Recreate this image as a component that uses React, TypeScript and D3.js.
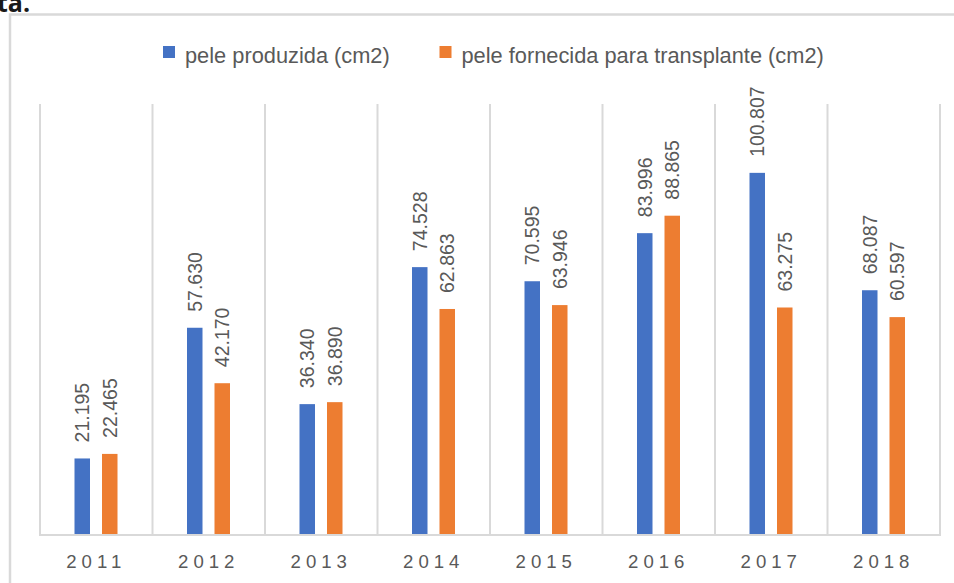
import React from "react";
import * as d3 from "d3";

const years = ["2011", "2012", "2013", "2014", "2015", "2016", "2017", "2018"];
const produzida = [21195, 57630, 36340, 74528, 70595, 83996, 100807, 68087];
const fornecida = [22465, 42170, 36890, 62863, 63946, 88865, 63275, 60597];
const seriesNames = ["pele produzida (cm2)", "pele fornecida para transplante (cm2)"];
const seriesColors = ["#4472C4", "#ED7D31"];

const W = 954;
const H = 583;
const FONT = "'Liberation Sans', Arial, sans-serif";

const fmt = (v: number) => d3.format(",.0f")(v / 1).replace(/,/g, ".").replace(/^(\d+)$/, "$1");
const fmtLabel = (v: number) => {
  const s = String(v);
  return s.length > 3 ? s.slice(0, s.length - 3) + "." + s.slice(s.length - 3) : s;
};

export default function App() {
  const x = d3.scaleBand<string>().domain(years).range([40, 940]).paddingInner(0).paddingOuter(0);
  const y = d3.scaleLinear().domain([0, 120000]).range([534.5, 104]);
  const bw = x.bandwidth();
  const barW = 15.5;
  const offsets = [-14, 13.5];
  const series = [produzida, fornecida];

  return (
    <svg
      width={W}
      height={H}
      style={{ position: "absolute", left: 0, top: 0, background: "#fff" }}
      fontFamily={FONT}
    >
      <rect x={0} y={0} width={W} height={H} fill="#fff" />
      <text x={-3} y={12} fontSize={25} fontWeight={700} fill="#1a1a1a" fontFamily="'Open Sans', sans-serif">
        ta.
      </text>
      {/* chart border */}
      <rect x={10} y={14.5} width={W + 20} height={H + 20} fill="none" stroke="#d9d9d9" strokeWidth={2.5} />

      {/* legend */}
      {seriesNames.map((name, i) => {
        const lx = i === 0 ? 163 : 439.5;
        return (
          <g key={name}>
            <rect x={lx} y={46} width={12} height={12} fill={seriesColors[i]} />
            <text x={lx + 22} y={63} fontSize={21.8} fill="#595959">
              {name}
            </text>
          </g>
        );
      })}

      {/* vertical gridlines at category boundaries */}
      {years.map((yr) => (
        <line key={"g" + yr} x1={x(yr)!} x2={x(yr)!} y1={104} y2={535} stroke="#d9d9d9" strokeWidth={2} />
      ))}
      <line x1={940} x2={940} y1={104} y2={535} stroke="#d9d9d9" strokeWidth={2} />

      {/* bars */}
      {series.map((vals, si) =>
        vals.map((v, i) => {
          const cx = x(years[i])! + bw / 2 + offsets[si];
          return (
            <rect
              key={`b${si}-${i}`}
              x={cx - barW / 2}
              y={y(v)}
              width={barW}
              height={y(0) - y(v)}
              fill={seriesColors[si]}
            />
          );
        })
      )}

      {/* axis line */}
      <line x1={39} x2={941} y1={535} y2={535} stroke="#d9d9d9" strokeWidth={2} />

      {/* value labels */}
      {series.map((vals, si) =>
        vals.map((v, i) => {
          const cx = x(years[i])! + bw / 2 + offsets[si];
          const ty = y(v) - 16;
          return (
            <text
              key={`l${si}-${i}`}
              transform={`translate(${cx},${ty}) rotate(-90)`}
              dy="0.36em"
              fontSize={19.5}
              fill="#595959"
            >
              {fmtLabel(v)}
            </text>
          );
        })
      )}

      {/* category labels */}
      {years.map((yr) => (
        <text
          key={"c" + yr}
          x={x(yr)! + bw / 2}
          y={568}
          textAnchor="middle"
          fontSize={18.6}
          letterSpacing={5}
          fill="#595959"
        >
          {yr}
        </text>
      ))}
    </svg>
  );
}
